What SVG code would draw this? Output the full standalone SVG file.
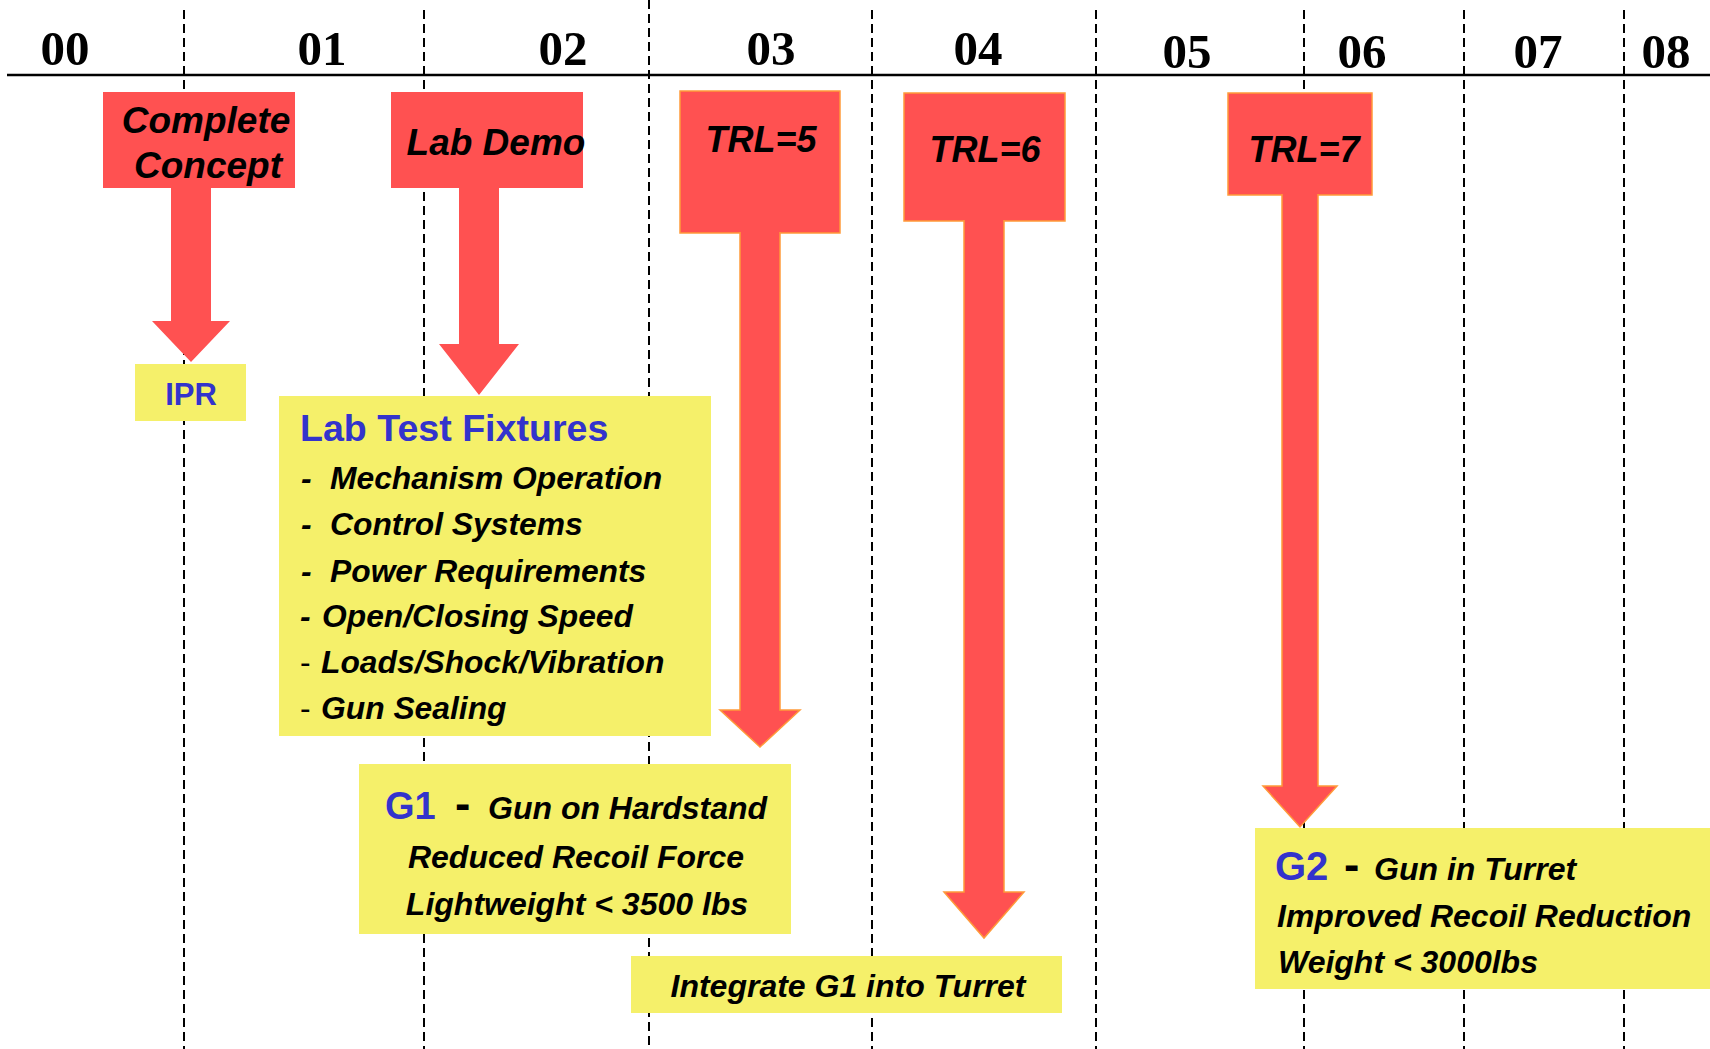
<svg xmlns="http://www.w3.org/2000/svg" width="1710" height="1049" viewBox="0 0 1710 1049">
<style>
.grid{stroke:#000;stroke-width:2;stroke-dasharray:9 5;fill:none}
.axis{stroke:#000;stroke-width:2.5}
.yr{font-family:"Liberation Serif","Times New Roman",serif;font-weight:bold;font-size:49px;fill:#000;text-anchor:middle}
.red{fill:#FF5151}
.redo{fill:#FF5151;stroke:#FF9A3A;stroke-width:1.5}
.yel{fill:#F5F06A}
.t{font-family:"Liberation Sans",Arial,sans-serif;font-weight:bold;font-style:italic;fill:#000}
.b{font-family:"Liberation Sans",Arial,sans-serif;font-weight:bold;fill:#3333CC}
.big{font-size:37px}
.mid{font-size:32px}
.sm{font-size:31.8px}
.c{text-anchor:middle}
.thin{font-weight:normal;font-style:normal}
.dash{font-family:"Liberation Sans",Arial,sans-serif;font-weight:900;font-size:46px;fill:#000}
</style>
<g id="timeline">
<line class="axis" x1="7" y1="75" x2="1710" y2="75"/>
<line class="grid" x1="184" y1="10" x2="184" y2="1049"/>
<line class="grid" x1="424" y1="10" x2="424" y2="1049"/>
<line class="grid" x1="649" y1="0" x2="649" y2="1049"/>
<line class="grid" x1="872" y1="10" x2="872" y2="1049"/>
<line class="grid" x1="1096" y1="10" x2="1096" y2="1049"/>
<line class="grid" x1="1304" y1="10" x2="1304" y2="1049"/>
<line class="grid" x1="1464" y1="10" x2="1464" y2="1049"/>
<line class="grid" x1="1624" y1="10" x2="1624" y2="1049"/>
<text class="yr" x="65" y="65">00</text>
<text class="yr" x="322" y="65">01</text>
<text class="yr" x="563" y="65">02</text>
<text class="yr" x="771" y="65">03</text>
<text class="yr" x="978" y="65">04</text>
<text class="yr" x="1187" y="68">05</text>
<text class="yr" x="1362" y="68">06</text>
<text class="yr" x="1538" y="68">07</text>
<text class="yr" x="1666" y="68">08</text>
</g>
<g id="complete-concept">
<rect class="red" x="103" y="92" width="192" height="96"/>
<text class="t big c" x="206" y="133">Complete</text>
<text class="t big c" x="208" y="178">Concept</text>
</g>
<g id="lab-demo">
<rect class="red" x="391" y="92" width="192" height="96"/>
<text class="t big c" x="496" y="155">Lab Demo</text>
</g>
<g id="trl5">
<rect class="redo" x="680" y="91" width="160" height="142"/>
<text class="t c" font-size="36" x="761" y="152">TRL=5</text>
</g>
<g id="trl6">
<rect class="redo" x="904" y="93" width="161" height="128"/>
<text class="t c" font-size="36" x="985" y="162">TRL=6</text>
</g>
<g id="trl7">
<rect class="redo" x="1228" y="93" width="144" height="102"/>
<text class="t c" font-size="36" x="1304" y="162">TRL=7</text>
</g>
<g id="ipr">
<rect class="yel" x="135" y="364" width="111" height="57"/>
<text class="b c" font-size="31" x="191" y="405">IPR</text>
</g>
<g id="lab-test-fixtures">
<rect class="yel" x="279" y="396" width="432" height="340"/>
<text class="b" font-size="37.6" x="300" y="441">Lab Test Fixtures</text>
<text class="t sm" x="301" y="489">-</text><text class="t sm" x="330" y="489">Mechanism Operation</text>
<text class="t sm" x="301" y="535">-</text><text class="t sm" x="330" y="535">Control Systems</text>
<text class="t sm" x="301" y="582">-</text><text class="t sm" x="330" y="582">Power Requirements</text>
<text class="t sm" x="300" y="627">-</text><text class="t sm" x="322" y="627">Open/Closing Speed</text>
<text class="t sm thin" x="300" y="673">-</text><text class="t sm" x="321" y="673">Loads/Shock/Vibration</text>
<text class="t sm thin" x="300" y="719">-</text><text class="t sm" x="321" y="719">Gun Sealing</text>
</g>
<g id="g1">
<rect class="yel" x="359" y="764" width="432" height="170"/>
<text class="b" font-size="38" x="385" y="819">G1</text>
<text class="dash" x="455" y="819">-</text>
<text class="t mid" x="488" y="819">Gun on Hardstand</text>
<text class="t mid c" x="576" y="868">Reduced Recoil Force</text>
<text class="t mid c" x="577" y="915">Lightweight &lt; 3500 lbs</text>
</g>
<g id="integrate-g1">
<rect class="yel" x="631" y="956" width="431" height="57"/>
<text class="t mid c" x="848" y="997">Integrate G1 into Turret</text>
</g>
<g id="g2">
<rect class="yel" x="1255" y="828" width="455" height="161"/>
<text class="b" font-size="40" x="1275" y="880">G2</text>
<text class="dash" x="1344" y="880">-</text>
<text class="t mid" x="1374" y="880">Gun in Turret</text>
<text class="t mid" x="1277" y="927">Improved Recoil Reduction</text>
<text class="t mid" x="1278" y="973">Weight &lt; 3000lbs</text>
</g>
<g id="connectors">
<path class="red" d="M171 187 L171 321 L152 321 L191 362 L230 321 L211 321 L211 187 Z"/>
<path class="red" d="M459 187 L459 344 L439 344 L479 395 L519 344 L499 344 L499 187 Z"/>
<path class="redo" d="M740 232 L740 710 L720 710 L760 747 L800 710 L780 710 L780 232"/>
<path class="redo" d="M964 220 L964 892 L944 892 L984 938 L1024 892 L1004 892 L1004 220"/>
<path class="redo" d="M1282 194 L1282 786 L1263 786 L1300 827 L1337 786 L1318 786 L1318 194"/>
</g>
</svg>
